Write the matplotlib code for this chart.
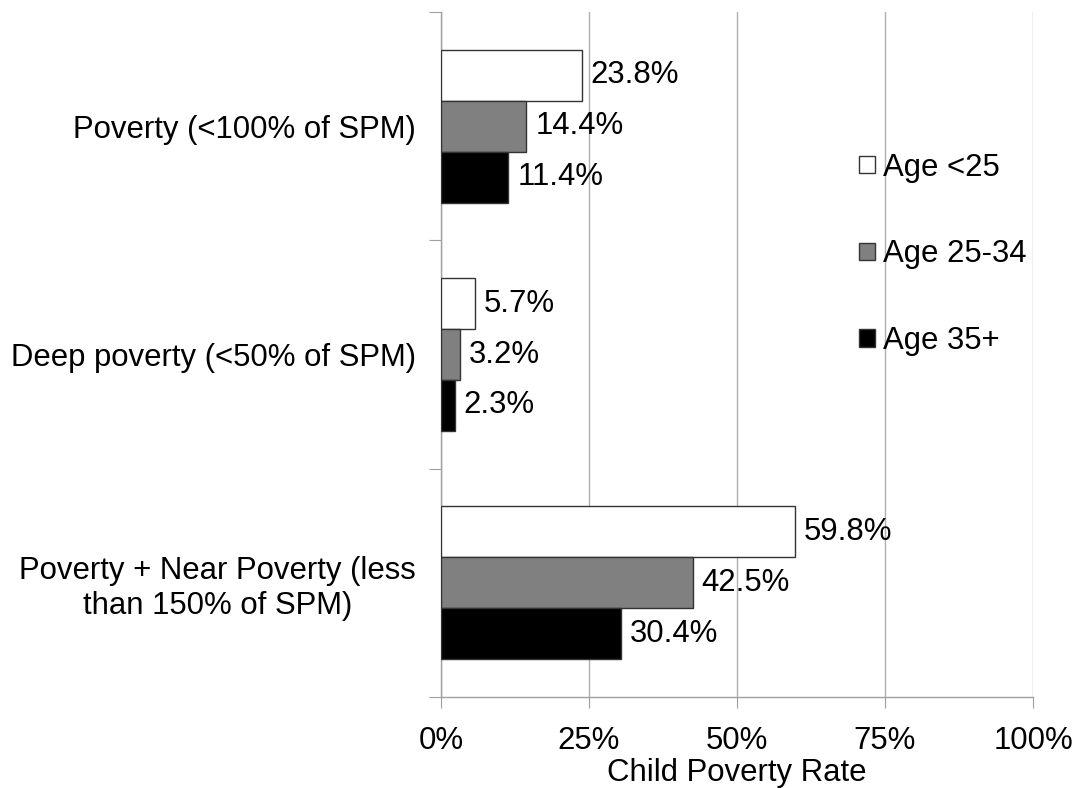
import matplotlib
matplotlib.use("Agg")
import matplotlib.pyplot as plt
import numpy as np
from matplotlib.patches import Patch

categories = ["Poverty (<100% of SPM)",
              "Deep poverty (<50% of SPM)",
              "Poverty + Near Poverty (less\nthan 150% of SPM)"]
series_names = ["Age <25", "Age 25-34", "Age 35+"]
age_lt25 = [23.8, 5.7, 59.8]
age_25_34 = [14.4, 3.2, 42.5]
age_35p = [11.4, 2.3, 30.4]
xticks = [0, 25, 50, 75, 100]
xtick_labels = ["0%", "25%", "50%", "75%", "100%"]

colors = ["#ffffff", "#808080", "#000000"]
series = [age_lt25, age_25_34, age_35p]

plt.rcParams['font.family'] = ['Liberation Sans', 'DejaVu Sans']
fs = 22.4

fig = plt.figure(figsize=(10.75, 7.88), dpi=100)
ax = fig.add_axes([441/1075, 1-697/788, (1033-441)/1075, (697-12)/788])

n = len(categories)
y = np.arange(n)
h = 0.67 / 3
for i, (vals, c) in enumerate(zip(series, colors)):
    ypos = y - h + i * h
    ax.barh(ypos, vals, height=h, color=c, edgecolor="#333333", linewidth=1.0,
            zorder=3, label=series_names[i])
    for yy, v in zip(ypos, vals):
        ax.text(v + 1.5, yy, f"{v:.1f}%", va="center", ha="left", fontsize=fs, zorder=4)

ax.set_xlim(0, 100)
ax.set_ylim(n - 0.5, -0.5)
ax.set_xticks(xticks)
ax.set_xticklabels(xtick_labels, fontsize=fs)
ax.xaxis.grid(True, color="#b0b0b0", linewidth=1.0, zorder=0)
ax.tick_params(axis="x", length=8, color="#a0a0a0", pad=13)

ax.set_yticks(np.arange(n + 1) - 0.5)
ax.set_yticklabels([])
ax.tick_params(axis="y", which="major", length=9, color="#a0a0a0")
ax.set_yticks(y, minor=True)
ax.set_yticklabels(categories, minor=True, fontsize=fs, ha="right", multialignment="center")
ax.tick_params(axis="y", which="minor", length=0, pad=18)

for s in ["top", "right"]:
    ax.spines[s].set_visible(False)
for s in ["left", "bottom"]:
    ax.spines[s].set_color("#a0a0a0")
    ax.spines[s].set_linewidth(1.0)

ax.set_xlabel("Child Poverty Rate", fontsize=fs, labelpad=1)

handles = [Patch(facecolor=c, edgecolor="#333333", linewidth=1.0) for c in colors]
leg = ax.legend(handles, series_names, loc="upper left", bbox_to_anchor=(0.685, 0.813),
                frameon=False, fontsize=fs, handlelength=0.5, handleheight=0.5,
                handletextpad=0.26, labelspacing=1.83, borderaxespad=0)

fig.savefig("out.png", dpi=100)
